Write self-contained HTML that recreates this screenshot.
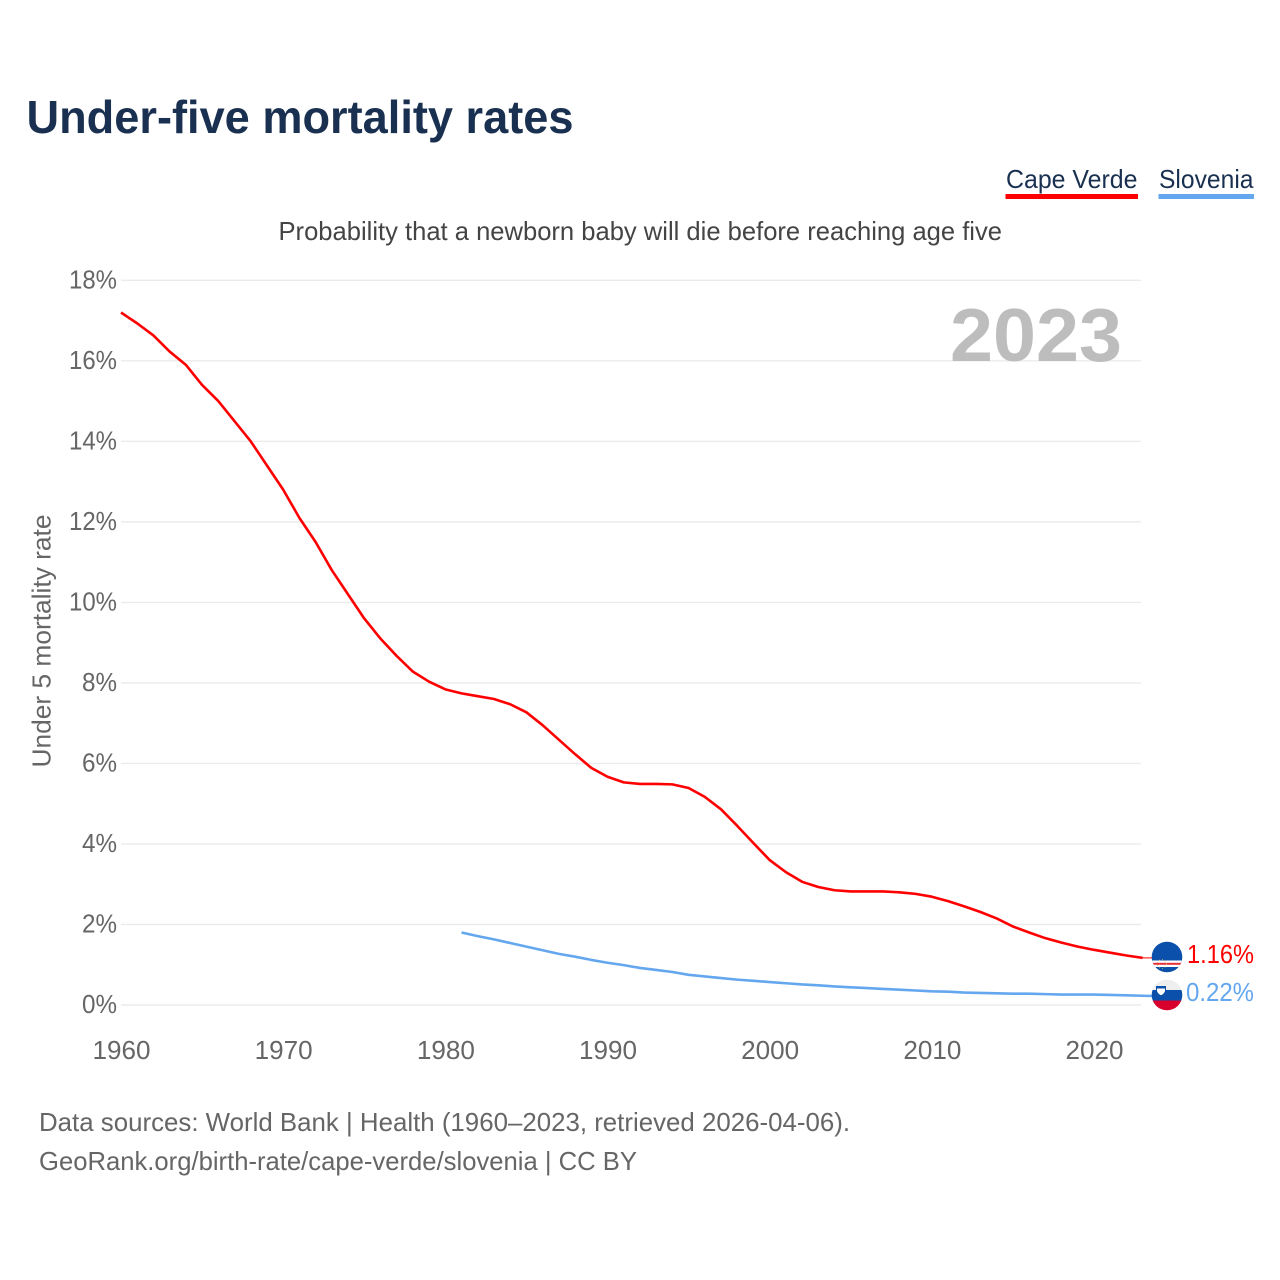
<!DOCTYPE html>
<html lang="en">
<head>
<meta charset="utf-8">
<title>Under-five mortality rates</title>
<style>
html,body{margin:0;padding:0;background:#fff;width:1280px;height:1280px;overflow:hidden}
svg{display:block}
text{font-family:"Liberation Sans",sans-serif}
</style>
</head>
<body>
<svg id="chart" xmlns="http://www.w3.org/2000/svg" width="1280" height="1280" viewBox="0 0 1280 1280">
  <defs>
    <clipPath id="clip-cv"><circle cx="1167" cy="957" r="15.3"/></clipPath>
    <clipPath id="clip-si"><circle cx="1167" cy="995" r="15.3"/></clipPath>
  </defs>
  <text x="26.500" y="133" font-size="46" font-weight="700" fill="#1a3050" textLength="547" lengthAdjust="spacingAndGlyphs">Under-five mortality rates</text>

  <g>
    <text x="1006" y="188" font-size="26" fill="#1a3050" textLength="131.500" lengthAdjust="spacingAndGlyphs">Cape Verde</text>
    <rect x="1005.500" y="194" width="132.500" height="5" fill="#ff0000"/>
  </g>
  <g>
    <text x="1159" y="188" font-size="26" fill="#1a3050" textLength="94.500" lengthAdjust="spacingAndGlyphs">Slovenia</text>
    <rect x="1158.500" y="194" width="95.500" height="5" fill="#64a7ee"/>
  </g>

  <text x="278.500" y="240" font-size="26" fill="#444444" textLength="723.500" lengthAdjust="spacingAndGlyphs">Probability that a newborn baby will die before reaching age five</text>

  <g id="grid"></g>
  <g id="yticks"></g>
  <g id="xticks"></g>

  <text x="950" y="361" font-size="75" font-weight="700" fill="#bdbdbd" textLength="172" lengthAdjust="spacingAndGlyphs">2023</text>

  <text transform="translate(50.500 767.500) rotate(-90)" font-size="26" fill="#666666" textLength="253" lengthAdjust="spacingAndGlyphs">Under 5 mortality rate</text>

  <g id="series"></g>

  <g clip-path="url(#clip-cv)">
    <rect x="1150" y="940" width="34" height="34" fill="#0b50ab"/>
    <rect x="1150" y="960.500" width="34" height="6.500" fill="#ffffff"/>
    <rect x="1150" y="962.800" width="34" height="2" fill="#e8303a"/>
    <circle cx="1162" cy="964" r="4.500" fill="none" stroke="#c8b25a" stroke-width="0.800" stroke-dasharray="1 2"/>
  </g>
  <g clip-path="url(#clip-si)">
    <rect x="1150" y="979" width="34" height="11" fill="#eeeeee"/>
    <rect x="1150" y="990" width="34" height="10.500" fill="#0b50ab"/>
    <rect x="1150" y="1000.500" width="34" height="11" fill="#d8002c"/>
    <path d="M1156 986h10v5q-1 4-5 5.500q-4-1.500-5-5.500z" fill="#0b50ab"/>
    <path d="M1157 988.500h8v2.500q-1 3-4 4.300q-3-1.300-4-4.300z" fill="#ffffff"/>
  </g>

  <g id="labels"></g>

  <text x="39" y="1131" font-size="26" fill="#666666" textLength="811" lengthAdjust="spacingAndGlyphs">Data sources: World Bank | Health (1960–2023, retrieved 2026-04-06).</text>
  <text x="39" y="1170" font-size="26" fill="#666666" textLength="598" lengthAdjust="spacingAndGlyphs">GeoRank.org/birth-rate/cape-verde/slovenia | CC BY</text>
</svg>
<script>
const yTickValues = [0, 2, 4, 6, 8, 10, 12, 14, 16, 18];
const xTickValues = [1960, 1970, 1980, 1990, 2000, 2010, 2020];
const capeVerdeStartYear = 1960;
const capeVerdeValues = [
  17.2, 16.93, 16.63, 16.23, 15.9, 15.4, 15.0, 14.5, 14.0, 13.4,
  12.8, 12.1, 11.5, 10.8, 10.2, 9.6, 9.1, 8.67, 8.28, 8.03,
  7.84, 7.74, 7.67, 7.6, 7.47, 7.27, 6.95, 6.59, 6.23, 5.89,
  5.67, 5.53, 5.49, 5.49, 5.48, 5.39, 5.17, 4.86, 4.45, 4.02,
  3.6, 3.3, 3.06, 2.93, 2.85, 2.82, 2.82, 2.82, 2.8, 2.76,
  2.69, 2.58, 2.45, 2.31, 2.15, 1.95, 1.8, 1.66, 1.55, 1.45,
  1.37, 1.3, 1.23, 1.17
];
const sloveniaStartYear = 1981;
const sloveniaValues = [
  1.8, 1.71, 1.63, 1.54, 1.45, 1.36, 1.27, 1.2, 1.12, 1.05,
  0.99, 0.92, 0.87, 0.82, 0.75, 0.71, 0.67, 0.63, 0.6, 0.57,
  0.54, 0.51, 0.49, 0.46, 0.44, 0.42, 0.4, 0.38, 0.36, 0.34,
  0.33, 0.31, 0.3, 0.29, 0.28, 0.28, 0.27, 0.26, 0.26, 0.26,
  0.25, 0.24, 0.23, 0.22
];

const SVG_NS = 'http://www.w3.org/2000/svg';
function xScale(year) { return 121 + (year - 1960) * (1094 - 121) / 60; }
function yScale(value) { return 1005 - value * (1005 - 280.3) / 18; }

const grid = document.getElementById('grid');
const yticks = document.getElementById('yticks');
const xticks = document.getElementById('xticks');
const series = document.getElementById('series');
const labels = document.getElementById('labels');

yTickValues.forEach(function (v) {
  const line = document.createElementNS(SVG_NS, 'line');
  
  
  line.setAttribute('x1', 121);
  line.setAttribute('x2', 1141);
  line.setAttribute('y1', yScale(v));
  line.setAttribute('y2', yScale(v));
  line.setAttribute('stroke', '#ebebeb');
  line.setAttribute('stroke-width', '1.4');
  grid.appendChild(line);

  const t = document.createElementNS(SVG_NS, 'text');
  
  
  const label = v + '%';
  const w = label.length === 3 ? 48 : 35;
  t.setAttribute('x', 117 - w);
  t.setAttribute('y', yScale(v) + 8);
  t.setAttribute('font-size', '26');
  t.setAttribute('fill', '#666666');
  t.setAttribute('textLength', w);
  t.setAttribute('lengthAdjust', 'spacingAndGlyphs');
  t.textContent = label;
  yticks.appendChild(t);
});

xTickValues.forEach(function (y) {
  const t = document.createElementNS(SVG_NS, 'text');
  
  
  t.setAttribute('x', xScale(y) - 28.5);
  t.setAttribute('y', 1059);
  t.setAttribute('font-size', '26');
  t.setAttribute('fill', '#666666');
  t.setAttribute('textLength', 58);
  t.setAttribute('lengthAdjust', 'spacingAndGlyphs');
  t.textContent = String(y);
  xticks.appendChild(t);
});

function linePoints(startYear, values) {
  return values.map(function (v, i) {
    return xScale(startYear + i).toFixed(2) + ',' + yScale(v).toFixed(2);
  }).join(' ');
}

const capeLine = document.createElementNS(SVG_NS, 'polyline');


capeLine.setAttribute('points', linePoints(capeVerdeStartYear, capeVerdeValues));
capeLine.setAttribute('fill', 'none');
capeLine.setAttribute('stroke', '#ff0000');
capeLine.setAttribute('stroke-width', '2.6');
capeLine.setAttribute('stroke-linejoin', 'round');
series.appendChild(capeLine);

const sloLine = document.createElementNS(SVG_NS, 'polyline');


sloLine.setAttribute('points', linePoints(sloveniaStartYear, sloveniaValues));
sloLine.setAttribute('fill', 'none');
sloLine.setAttribute('stroke', '#64a7ee');
sloLine.setAttribute('stroke-width', '2.6');
sloLine.setAttribute('stroke-linejoin', 'round');
series.appendChild(sloLine);

const capeLast = capeVerdeValues[capeVerdeValues.length - 1];
const sloLast = sloveniaValues[sloveniaValues.length - 1];
const endX = xScale(2023);

const capeConn = document.createElementNS(SVG_NS, 'line');


capeConn.setAttribute('x1', endX);
capeConn.setAttribute('x2', 1152);
capeConn.setAttribute('y1', yScale(capeLast));
capeConn.setAttribute('y2', yScale(capeLast));
capeConn.setAttribute('stroke', '#ff0000');
capeConn.setAttribute('stroke-width', '1');
series.appendChild(capeConn);

const sloConn = document.createElementNS(SVG_NS, 'line');


sloConn.setAttribute('x1', endX);
sloConn.setAttribute('x2', 1152);
sloConn.setAttribute('y1', yScale(sloLast));
sloConn.setAttribute('y2', yScale(sloLast));
sloConn.setAttribute('stroke', '#64a7ee');
sloConn.setAttribute('stroke-width', '1');
series.appendChild(sloConn);

const capeLabel = document.createElementNS(SVG_NS, 'text');


capeLabel.setAttribute('x', 1187);
capeLabel.setAttribute('y', 963);
capeLabel.setAttribute('font-size', '26');
capeLabel.setAttribute('fill', '#ff0000');
capeLabel.setAttribute('textLength', 67);
capeLabel.setAttribute('lengthAdjust', 'spacingAndGlyphs');
capeLabel.textContent = '1.16%';
labels.appendChild(capeLabel);

const sloLabel = document.createElementNS(SVG_NS, 'text');


sloLabel.setAttribute('x', 1186);
sloLabel.setAttribute('y', 1001);
sloLabel.setAttribute('font-size', '26');
sloLabel.setAttribute('fill', '#64a7ee');
sloLabel.setAttribute('textLength', 68);
sloLabel.setAttribute('lengthAdjust', 'spacingAndGlyphs');
sloLabel.textContent = sloLast.toFixed(2) + '%';
labels.appendChild(sloLabel);
</script>
</body>
</html>
